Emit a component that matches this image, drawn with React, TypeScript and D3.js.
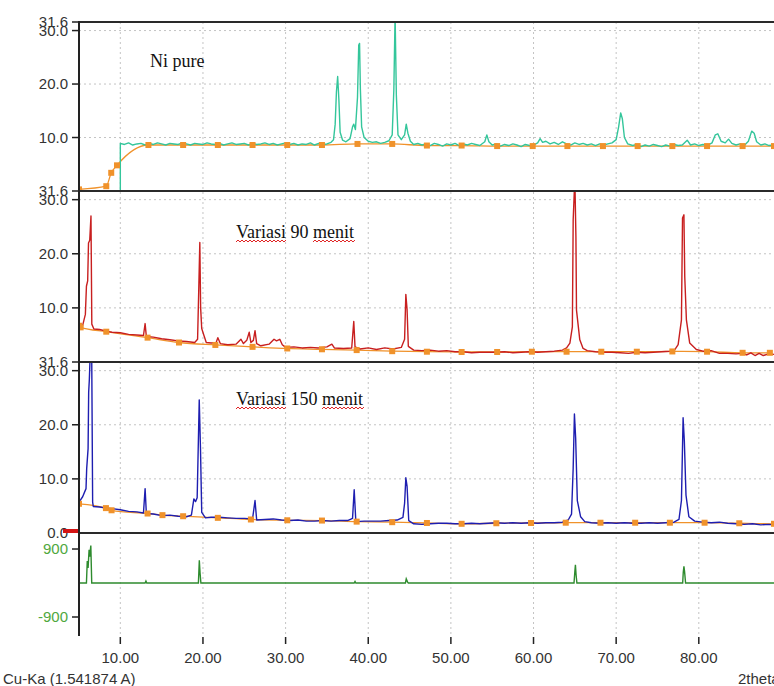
import React, { useLayoutEffect, useRef, useState } from "react";
import * as d3 from "d3";

// 2theta range shown and tick marks
const xDomain = [5, 89.1];
const xTicks = [10, 20, 30, 40, 50, 60, 70, 80];
const yTicks = [10, 20, 30];
const yTopLabel = 31.6;
const diffTicks = [900, -900];

// Ni pure, measured pattern [2theta, counts]
const niPure: [number, number][] = [
  [10.0, 0], [10.0, 8.9], [10.5, 8.7], [11, 9.0], [11.5, 8.6], [12, 8.8], [12.5, 8.9], [13, 8.6], [13.5, 8.9],
  [14, 8.7], [14.5, 9.0], [15, 8.8], [15.5, 8.6], [16, 8.9], [16.5, 8.8], [17, 8.7], [17.5, 9.0], [18, 8.8],
  [18.5, 8.6], [19, 8.9], [19.5, 8.8], [20, 8.7], [20.5, 9.0], [21, 8.8], [21.5, 8.7], [22, 8.9], [22.5, 8.6],
  [23, 8.8], [23.5, 9.0], [24, 8.7], [24.5, 8.8], [25, 8.9], [25.5, 8.6], [26, 8.9], [26.5, 8.7], [27, 8.8],
  [27.5, 9.0], [28, 8.7], [28.5, 8.9], [29, 8.6], [29.5, 8.8], [30, 9.0], [30.5, 8.7], [31, 8.9], [31.5, 8.6],
  [32, 8.8], [32.5, 8.7], [33, 9.0], [33.5, 8.6], [34, 8.9], [34.5, 8.7], [35, 8.8], [35.5, 9.1], [35.8, 9.6],
  [36.0, 12.5], [36.15, 18.5], [36.3, 21.4], [36.45, 17.0], [36.6, 11.0], [36.9, 9.5], [37.3, 9.2], [37.8, 9.8],
  [38.1, 12.0], [38.25, 12.5], [38.45, 11.5], [38.7, 17.5], [38.85, 27.3], [38.95, 27.6], [39.05, 19.0],
  [39.2, 12.0], [39.5, 10.0], [40, 9.3], [40.5, 9.1], [41, 9.2], [41.5, 8.9], [42, 9.1], [42.5, 9.4],
  [42.9, 10.5], [43.1, 19.0], [43.25, 33.0], [43.4, 18.0], [43.6, 10.5], [44, 9.6], [44.4, 10.5], [44.6, 12.5],
  [44.8, 10.8], [45.1, 9.3], [45.5, 8.7], [46, 8.9], [46.5, 8.6], [47, 8.8], [47.5, 8.5], [48, 8.9], [48.5, 8.7],
  [49, 8.4], [49.5, 8.8], [50, 8.6], [50.5, 8.9], [51, 8.5], [51.5, 8.8], [52, 8.6], [52.5, 8.9], [53, 8.7],
  [53.5, 8.5], [54.1, 9.2], [54.35, 10.5], [54.6, 9.2], [55, 8.6], [55.5, 8.8], [56, 8.4], [56.5, 8.7], [57, 8.5],
  [57.5, 8.8], [58, 8.6], [58.5, 8.3], [59, 8.7], [59.5, 8.5], [60, 8.6], [60.5, 9.0], [60.8, 9.8], [61.1, 9.1],
  [61.5, 9.3], [62, 8.8], [62.5, 9.1], [63, 8.7], [63.5, 9.2], [64, 8.8], [64.5, 8.6], [65, 9.0], [65.5, 8.7],
  [66, 8.9], [66.5, 8.6], [67, 8.8], [67.5, 8.5], [68, 8.8], [68.5, 8.6], [69, 8.8], [69.5, 9.0], [70.0, 9.6],
  [70.3, 12.0], [70.55, 14.6], [70.75, 13.5], [71.0, 10.0], [71.4, 8.8], [72, 8.5], [72.5, 8.7], [73, 8.3],
  [73.5, 8.6], [74, 8.4], [74.5, 8.7], [75, 8.5], [75.5, 8.3], [76, 8.6], [76.5, 8.4], [77, 8.7], [77.5, 8.5],
  [78, 8.6], [78.6, 9.5], [79, 8.6], [79.5, 8.8], [80, 8.5], [80.5, 8.7], [81, 8.5], [81.6, 9.0], [82.0, 10.5],
  [82.3, 10.7], [82.7, 9.3], [83.2, 9.0], [83.6, 9.7], [84, 8.9], [84.5, 8.6], [85, 8.8], [85.5, 8.5], [86.0, 9.3],
  [86.4, 11.2], [86.7, 10.8], [87.0, 9.2], [87.5, 8.6], [88, 8.8], [88.5, 8.5], [89.1, 8.6],
];
const niPureBg: [number, number][] = [
  [5.0, 0.3], [8.3, 0.9], [8.9, 3.4], [9.6, 4.8], [13.4, 8.6], [17.6, 8.6], [21.8, 8.6], [26.0, 8.6], [30.2, 8.6],
  [34.4, 8.6], [38.7, 8.8], [42.9, 8.8], [47.1, 8.5], [51.3, 8.5], [55.6, 8.4], [59.9, 8.4], [64.1, 8.4],
  [68.4, 8.4], [72.6, 8.4], [76.8, 8.4], [81.0, 8.4], [85.3, 8.4], [89.1, 8.4],
];

// Variasi 90 menit
const var90: [number, number][] = [
  [5.0, 6.7], [5.4, 6.5], [5.77, 8.8], [5.9, 14.0], [6.05, 15.0], [6.15, 22.0], [6.3, 22.5], [6.45, 27.0],
  [6.55, 7.0], [6.8, 6.1], [7.5, 6.0], [8.3, 5.7], [9, 5.5], [10, 5.4], [11, 5.1], [12, 5.0], [12.8, 4.9],
  [13.0, 7.1], [13.15, 4.7], [14, 4.6], [15, 4.3], [16, 4.1], [17, 3.9], [18, 3.8], [19, 3.6], [19.35, 4.2],
  [19.5, 14.0], [19.62, 22.1], [19.72, 10.0], [19.85, 6.2], [20.1, 5.0], [20.4, 3.6], [21, 3.5], [21.6, 3.6],
  [21.8, 4.5], [22.1, 3.4], [23, 3.2], [24, 3.3], [24.6, 4.2], [24.9, 3.4], [25.3, 4.0], [25.6, 5.5], [25.8, 3.6],
  [26.1, 4.0], [26.3, 5.8], [26.5, 3.4], [27, 3.0], [28, 3.3], [28.6, 4.2], [28.9, 3.9], [29.3, 4.2], [29.6, 3.2],
  [30, 2.7], [31, 2.8], [32, 2.6], [33, 2.7], [34, 2.6], [35, 2.8], [35.6, 3.3], [35.9, 2.6], [37, 2.5],
  [38.0, 2.6], [38.25, 7.5], [38.4, 2.8], [39, 2.4], [40, 2.6], [41, 2.3], [42, 2.6], [43, 2.4], [44.0, 2.7],
  [44.4, 4.2], [44.55, 12.5], [44.7, 9.7], [44.85, 2.9], [45.5, 2.2], [46.5, 2.1], [47.5, 2.2], [48.5, 2.0],
  [49.5, 2.1], [50.5, 1.9], [51.5, 1.9], [52.5, 1.7], [53.5, 1.8], [54.5, 1.8], [55.5, 1.8], [56.5, 1.9],
  [57.5, 1.7], [58.5, 1.8], [59.5, 1.9], [60.5, 1.8], [61.5, 1.9], [62.5, 2.0], [63.5, 2.2], [64.0, 2.6],
  [64.4, 3.5], [64.7, 6.5], [64.8, 26.3], [65.0, 34.0], [65.13, 23.2], [65.2, 9.6], [65.6, 4.1], [66.0, 2.5],
  [66.5, 2.1], [67.5, 1.9], [68.5, 1.8], [69.5, 1.8], [70.5, 1.7], [71.5, 1.6], [72.5, 1.8], [73.5, 1.7],
  [74.5, 1.8], [75.5, 1.9], [76.5, 2.0], [77.1, 2.3], [77.5, 3.2], [77.9, 7.8], [78.03, 26.6], [78.2, 27.2],
  [78.3, 15.8], [78.5, 7.8], [78.9, 3.5], [79.7, 2.3], [80.5, 2.0], [81.5, 2.1], [82.5, 1.6], [83.5, 1.6],
  [84.5, 1.5], [85.3, 1.6], [85.8, 1.3], [86.3, 1.7], [86.8, 1.2], [87.3, 1.6], [87.8, 1.2], [88.5, 1.5], [89.1, 1.4],
];
const var90Bg: [number, number][] = [
  [5.0, 6.7], [5.2, 6.4], [8.3, 5.6], [13.3, 4.5], [17.1, 3.6], [21.5, 3.15], [26.0, 2.8], [30.2, 2.5],
  [34.4, 2.35], [38.6, 2.2], [42.9, 2.0], [47.1, 1.9], [51.3, 1.85], [55.6, 1.85], [59.8, 1.9], [64.0, 1.9],
  [68.2, 1.9], [72.5, 1.9], [76.8, 1.95], [81.0, 1.9], [85.3, 1.7], [88.6, 1.7],
];

// Variasi 150 menit
const var150: [number, number][] = [
  [5.0, 5.7], [5.44, 6.7], [5.85, 8.2], [5.93, 11.9], [6.1, 15.6], [6.17, 26.0], [6.25, 28.3], [6.4, 35],
  [6.53, 35], [6.65, 5.7], [6.73, 4.9], [7.5, 4.8], [8.3, 4.6], [9, 4.5], [10, 4.3], [11, 4.0], [12, 3.9],
  [12.8, 3.7], [13.0, 8.2], [13.15, 3.6], [14, 3.5], [15, 3.2], [16, 3.3], [17, 3.1], [18, 3.0], [18.6, 3.3],
  [18.9, 6.3], [19.1, 5.8], [19.3, 6.5], [19.55, 24.6], [19.7, 15.6], [19.85, 3.8], [20.3, 2.8], [21, 2.9],
  [22, 2.9], [23, 2.8], [24, 2.7], [25, 2.7], [26.0, 2.6], [26.3, 6.0], [26.5, 2.4], [27.5, 2.5], [28.5, 2.6],
  [29.5, 2.4], [30.5, 2.3], [31.5, 2.4], [32.5, 2.2], [33.5, 2.2], [34.5, 2.3], [35.5, 2.2], [36.5, 2.3],
  [37.5, 2.3], [38.1, 2.7], [38.3, 8.0], [38.5, 2.1], [39.5, 2.2], [40.5, 2.2], [41.5, 2.2], [42.5, 2.3],
  [43.5, 2.4], [44.2, 2.9], [44.4, 5.5], [44.55, 10.2], [44.7, 8.6], [44.9, 2.3], [45.5, 1.7], [46.5, 1.6],
  [47.5, 1.7], [48.5, 1.8], [49.5, 1.8], [50.5, 1.7], [51.5, 1.7], [52.5, 1.8], [53.5, 1.7], [54.5, 1.8],
  [55.5, 1.9], [56.5, 1.8], [57.5, 1.9], [58.5, 1.8], [59.5, 1.9], [60.5, 1.8], [61.5, 1.9], [62.5, 1.9],
  [63.5, 2.0], [64.2, 2.4], [64.6, 3.5], [64.8, 12.0], [64.95, 22.0], [65.1, 17.5], [65.3, 6.0], [65.7, 3.0],
  [66.2, 2.1], [67, 1.9], [68, 1.8], [69, 1.9], [70, 1.8], [71, 1.9], [72, 1.8], [73, 1.8], [74, 1.9], [75, 1.8],
  [76, 1.9], [77, 2.0], [77.6, 2.5], [77.9, 6.0], [78.1, 21.3], [78.25, 17.0], [78.45, 7.0], [78.8, 3.0],
  [79.5, 2.2], [80.5, 2.0], [81.5, 1.9], [82.5, 2.0], [83.5, 1.8], [84.5, 1.7], [85.5, 1.6], [86.5, 1.7],
  [87.5, 1.5], [88.5, 1.6], [89.1, 1.5],
];
const var150Bg: [number, number][] = [
  [5.0, 5.4], [8.26, 4.6], [8.94, 4.2], [13.3, 3.6], [15.1, 3.3], [17.6, 3.1], [21.8, 2.8], [25.8, 2.5],
  [30.2, 2.35], [34.4, 2.3], [38.6, 2.1], [42.9, 2.0], [47.1, 1.85], [51.3, 1.7], [55.5, 1.8], [59.7, 1.85],
  [63.9, 1.9], [68.1, 1.9], [72.3, 1.9], [76.5, 1.9], [80.7, 1.9], [84.9, 1.8], [89.1, 1.7],
];

// difference curve (bottom strip)
const diff: [number, number][] = [
  [5.0, 0], [5.9, 0], [6.0, 580], [6.1, 400], [6.22, 880], [6.3, 700], [6.43, 990], [6.54, 0], [13.0, 0],
  [13.1, 50], [13.2, 0], [19.45, 0], [19.56, 600], [19.65, 265], [19.75, 0], [38.3, 0], [38.4, 40], [38.5, 0],
  [44.5, 0], [44.6, 110], [44.75, 30], [44.85, 0], [64.9, 0], [65.0, 300], [65.07, 485], [65.15, 220],
  [65.25, 0], [78.05, 0], [78.12, 280], [78.2, 440], [78.28, 300], [78.4, 0], [89.1, 0],
];

const W = 774;
const H = 686;
const X0 = 79;
const AX = "Liberation Sans, Arial, sans-serif";

const x = d3.scaleLinear().domain(xDomain).range([X0, W]);

const panels = [
  { key: "ni", top: 22, bottom: 191, data: niPure, bg: niPureBg, color: "#34c69b", label: "Ni pure", lx: 150, ly: 67, wavy: [] as string[] },
  { key: "v90", top: 191, bottom: 362, data: var90, bg: var90Bg, color: "#c81f1f", label: "Variasi 90 menit", lx: 236, ly: 238, wavy: ["Variasi", "menit"] },
  { key: "v150", top: 362, bottom: 533, data: var150, bg: var150Bg, color: "#1e1eb0", label: "Variasi 150 menit", lx: 236, ly: 405, wavy: ["Variasi", "menit"] },
];
const diffTop = 533;
const diffBottom = 636;
const yDiff = d3.scaleLinear().domain([-1403, 1324]).range([diffBottom, diffTop]);

function Note({ x0, y0, text, wavy }: { x0: number; y0: number; text: string; wavy: string[] }) {
  const ref = useRef<SVGTextElement>(null);
  const [paths, setPaths] = useState<string[]>([]);
  useLayoutEffect(() => {
    const el = ref.current;
    if (!el || !wavy.length) return;
    const out: string[] = [];
    wavy.forEach((w) => {
      const i = text.indexOf(w);
      const a = el.getStartPositionOfChar(i).x;
      const b = el.getEndPositionOfChar(i + w.length - 1).x;
      let d = `M${a},${y0 + 4}`;
      let k = 0;
      for (let px = a; px < b; px += 2, k++) d += `L${px + 2},${y0 + (k % 2 ? 4 : 2)}`;
      out.push(d);
    });
    setPaths(out);
  }, []);
  return (
    <g>
      <text ref={ref} x={x0} y={y0} fontFamily="Liberation Serif, Times New Roman, serif" fontSize={18} fill="#111">
        {text}
      </text>
      {paths.map((d, i) => (
        <path key={i} d={d} fill="none" stroke="#e02424" strokeWidth={1} />
      ))}
    </g>
  );
}

export default function App() {
  return (
    <svg width={W} height={H} style={{ position: "absolute", left: 0, top: 0, background: "#fff" }}>
      <defs>
        {panels.map((p) => (
          <clipPath id={"clip-" + p.key} key={p.key}>
            <rect x={X0} y={p.top} width={W - X0} height={p.bottom - p.top} />
          </clipPath>
        ))}
        <clipPath id="clip-diff">
          <rect x={X0} y={diffTop} width={W - X0} height={diffBottom - diffTop} />
        </clipPath>
      </defs>

      {/* vertical grid */}
      {xTicks.map((t) => (
        <line key={t} x1={x(t)} x2={x(t)} y1={22} y2={diffBottom} stroke="#c4c4c4" strokeDasharray="2 3" />
      ))}

      {panels.map((p) => {
        const y = d3.scaleLinear().domain([0, yTopLabel]).range([p.bottom, p.top]);
        const line = d3.line<[number, number]>().x((d) => x(d[0])).y((d) => y(d[1]));
        const bgLine = d3.line<[number, number]>().x((d) => x(d[0])).y((d) => y(d[1])).curve(d3.curveMonotoneX);
        return (
          <g key={p.key}>
            {yTicks.map((t) => (
              <line key={t} x1={X0} x2={W} y1={y(t)} y2={y(t)} stroke="#c4c4c4" strokeDasharray="2 3" />
            ))}
            <g clipPath={`url(#clip-${p.key})`}>
              <path d={bgLine(p.bg) || ""} fill="none" stroke="#f0922b" strokeWidth={1.3} />
              <path d={line(p.data) || ""} fill="none" stroke={p.color} strokeWidth={1.4} strokeLinejoin="round" />
              {p.bg.map((d, i) => (
                <rect key={i} x={x(d[0]) - 3} y={y(d[1]) - 3} width={6} height={6} fill="#f0922b" />
              ))}
            </g>
            {[...yTicks, yTopLabel].map((t) => (
              <g key={t}>
                <line x1={X0 - 7} x2={X0} y1={y(t)} y2={y(t)} stroke="#222" strokeWidth={1.5} />
                <text x={68} y={y(t)} dy="0.36em" textAnchor="end" fontFamily={AX} fontSize={15} fill="#333">
                  {t.toFixed(1)}
                </text>
              </g>
            ))}
            <line x1={X0} x2={W} y1={p.top} y2={p.top} stroke="#2a2a2a" strokeWidth={2} />
            <Note x0={p.lx} y0={p.ly} text={p.label} wavy={p.wavy} />
          </g>
        );
      })}

      {/* difference strip */}
      <g clipPath="url(#clip-diff)">
        <path
          d={d3.line<[number, number]>().x((d) => x(d[0])).y((d) => yDiff(d[1]))(diff) || ""}
          fill="none"
          stroke="#2e8b2e"
          strokeWidth={1.4}
        />
      </g>
      <line x1={X0} x2={W} y1={diffTop} y2={diffTop} stroke="#2a2a2a" strokeWidth={2} />
      {diffTicks.map((t) => (
        <g key={t}>
          <line x1={X0 - 7} x2={X0} y1={yDiff(t)} y2={yDiff(t)} stroke="#222" strokeWidth={1.5} />
          <text x={68} y={yDiff(t)} dy="0.36em" textAnchor="end" fontFamily={AX} fontSize={15} fill="#4fa83e">
            {t}
          </text>
        </g>
      ))}
      <text x={68} y={diffTop} dy="0.36em" textAnchor="end" fontFamily={AX} fontSize={15} fill="#333">
        0.0
      </text>
      <rect x={63} y={529} width={17} height={4} fill="#d41414" />

      {/* left axis */}
      <line x1={X0} x2={X0} y1={21} y2={diffBottom} stroke="#222" strokeWidth={2} />

      {/* x axis ticks */}
      {xTicks.map((t) => (
        <g key={t}>
          <line x1={x(t)} x2={x(t)} y1={637} y2={644} stroke="#222" strokeWidth={1.5} />
          <text x={x(t)} y={663} textAnchor="middle" fontFamily={AX} fontSize={15} fill="#333">
            {t.toFixed(2)}
          </text>
        </g>
      ))}
      <text x={3} y={684} fontFamily={AX} fontSize={15} fill="#333">
        Cu-Ka (1.541874 A)
      </text>
      <text x={738} y={684} fontFamily={AX} fontSize={15} fill="#333">
        2theta
      </text>
    </svg>
  );
}
